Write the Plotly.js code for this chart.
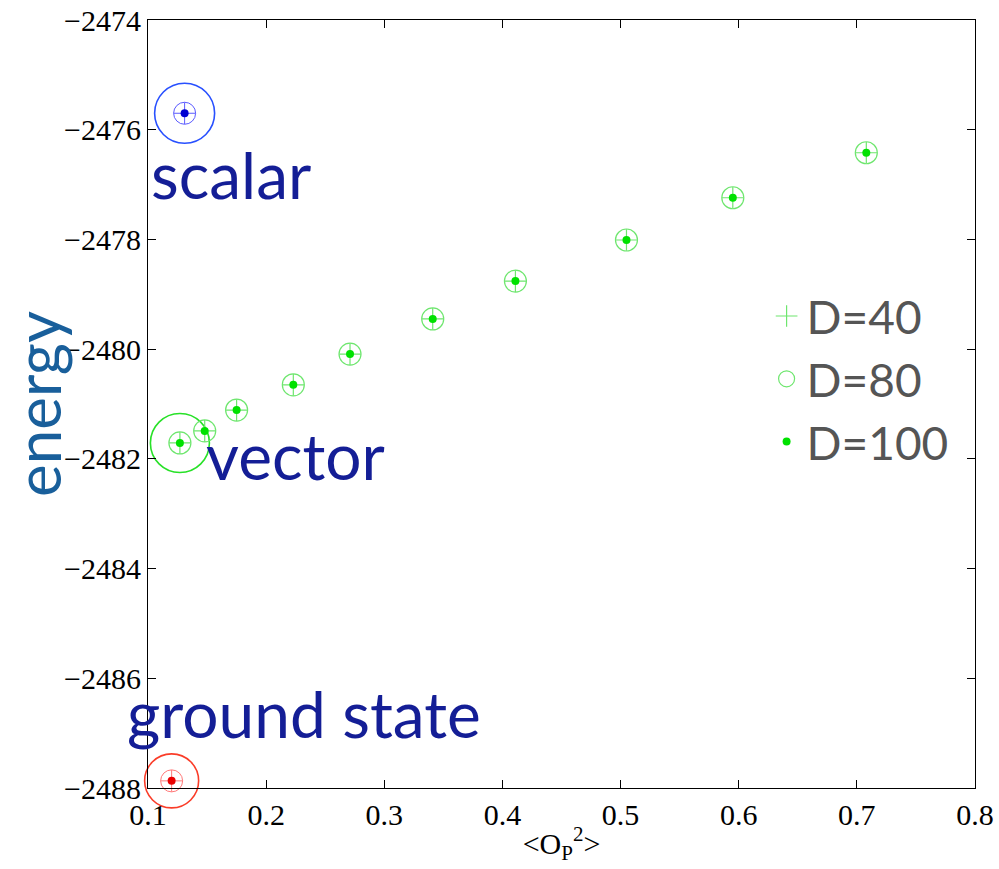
<!DOCTYPE html>
<html>
<head>
<meta charset="utf-8">
<script src="https://cdn.plot.ly/plotly-3.0.1.min.js"></script>
<style>html,body{margin:0;padding:0;background:#fff;}#chart{width:999px;height:869px;}</style>
</head>
<body>
<div id="chart"></div>
<script>
// Green (excited) series points
const opX = [0.127, 0.148, 0.175, 0.223, 0.271, 0.341, 0.411, 0.505, 0.595, 0.708];
const energyY = [-2481.71, -2481.49, -2481.11, -2480.65, -2480.09, -2479.45, -2478.76, -2478.01, -2477.24, -2476.42];
// Scalar state
const scalarX = [0.131];
const scalarY = [-2475.70];
// Ground state
const groundX = [0.120];
const groundY = [-2487.87];
// Vector state (first green point)
const vectorX = [0.127];
const vectorY = [-2481.71];
// Legend labels
const legendNames = ["D=40", "D=80", "D=100"];
// Text labels
const stateLabels = ["scalar", "vector", "ground state"];
const xTicks = [0.1, 0.2, 0.3, 0.4, 0.5, 0.6, 0.7, 0.8];
const yTicks = [-2488, -2486, -2484, -2482, -2480, -2478, -2476, -2474];

const green = "rgb(40,225,40)";
const lightGreen = "rgb(110,230,110)";

const traces = [];
// big highlight circles
traces.push({x: scalarX, y: scalarY, mode: "markers", showlegend: false, hoverinfo: "skip", cliponaxis: false,
  marker: {symbol: "circle-open", size: 60, color: "rgb(40,80,255)", line: {width: 1.6, color: "rgb(40,80,255)"}}});
traces.push({x: vectorX, y: vectorY, mode: "markers", showlegend: false, hoverinfo: "skip", cliponaxis: false,
  marker: {symbol: "circle-open", size: 59, color: green, line: {width: 1.6, color: green}}});
traces.push({x: groundX, y: groundY, mode: "markers", showlegend: false, hoverinfo: "skip", cliponaxis: false,
  marker: {symbol: "circle-open", size: 54, color: "rgb(250,60,40)", line: {width: 1.6, color: "rgb(250,60,40)"}}});

// scalar & ground small markers
function addState(x, y, light, dark) {
  traces.push({x: x, y: y, mode: "markers", showlegend: false, hoverinfo: "skip", cliponaxis: false,
    marker: {symbol: "cross-thin-open", size: 15.5, color: light, line: {width: 1, color: light}}});
  traces.push({x: x, y: y, mode: "markers", showlegend: false, hoverinfo: "skip", cliponaxis: false,
    marker: {symbol: "circle-open", size: 22, color: light, line: {width: 1, color: light}}});
  traces.push({x: x, y: y, mode: "markers", showlegend: false, hoverinfo: "skip", cliponaxis: false,
    marker: {symbol: "circle", size: 8, color: dark}});
}
addState(scalarX, scalarY, "rgb(90,90,255)", "rgb(0,0,210)");
addState(groundX, groundY, "rgb(255,120,120)", "rgb(235,0,0)");

// green series: D=40 (+), D=80 (o), D=100 (.)
traces.push({x: opX, y: energyY, mode: "markers", name: legendNames[0], cliponaxis: false,
  marker: {symbol: "cross-thin-open", size: 15.5, color: lightGreen, line: {width: 1.2, color: lightGreen}}});
traces.push({x: opX, y: energyY, mode: "markers", name: legendNames[1], cliponaxis: false,
  marker: {symbol: "circle-open", size: 22, color: lightGreen, line: {width: 1.2, color: lightGreen}}});
traces.push({x: opX, y: energyY, mode: "markers", name: legendNames[2], cliponaxis: false,
  marker: {symbol: "circle", size: 8, color: "rgb(0,225,0)"}});

const labelFont = {family: "Lato, 'Open Sans', sans-serif", size: 64, color: "rgb(20,30,150)"};

const layout = {
  width: 999, height: 869,
  margin: {l: 148, r: 24, t: 20, b: 81},
  paper_bgcolor: "#fff", plot_bgcolor: "#fff",
  showlegend: true,
  legend: {x: 0.748, y: 0.662, xanchor: "left", yanchor: "top", bgcolor: "rgba(0,0,0,0)",
    font: {family: "Lato, 'Open Sans', sans-serif", size: 46, color: "#555"}, tracegroupgap: 0},
  xaxis: {range: [0.1, 0.8], tickvals: xTicks, ticktext: xTicks.map(v => v.toFixed(1)),
    showline: true, mirror: "ticks", linecolor: "#000", linewidth: 1, ticks: "inside", ticklen: 8,
    tickcolor: "#000", showgrid: false, zeroline: false,
    tickfont: {family: "'Liberation Serif', 'DejaVu Serif', serif", size: 30, color: "#000"},
    title: {text: "&lt;O<sub>P</sub><sup>2</sup>&gt;", standoff: 2,
      font: {family: "'Liberation Serif', serif", size: 30, color: "#000"}}},
  yaxis: {range: [-2488, -2474], tickvals: yTicks,
    showline: true, mirror: "ticks", linecolor: "#000", linewidth: 1, ticks: "inside", ticklen: 8,
    tickcolor: "#000", showgrid: false, zeroline: false, ticklabelstandoff: 0,
    tickfont: {family: "'Liberation Serif', 'DejaVu Serif', serif", size: 30, color: "#000"},
    title: {text: "energy", standoff: 0,
      font: {family: "Lato, 'Open Sans', sans-serif", size: 62, color: "rgb(25,95,155)"}}},
  annotations: [
    {x: 0.1012, y: -2476.82, xref: "x", yref: "y", text: stateLabels[0], showarrow: false,
      xanchor: "left", yanchor: "middle", font: labelFont},
    {x: 0.1475, y: -2481.93, xref: "x", yref: "y", text: stateLabels[1], showarrow: false,
      xanchor: "left", yanchor: "middle", font: labelFont},
    {x: -0.028, y: 0.097, xref: "paper", yref: "paper", text: stateLabels[2], showarrow: false,
      xanchor: "left", yanchor: "middle", font: labelFont}
  ]
};

Plotly.newPlot("chart", traces, layout, {displayModeBar: false, staticPlot: true});
</script>
</body>
</html>
